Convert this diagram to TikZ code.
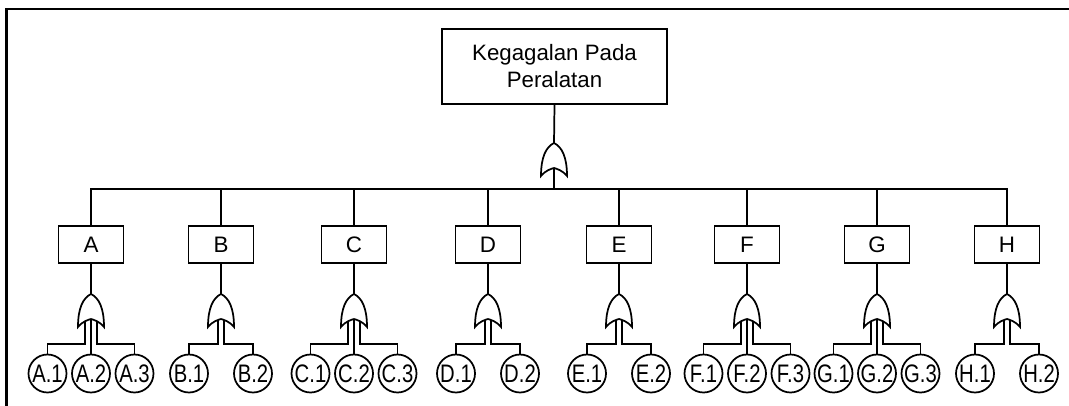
\documentclass[tikz,border=0pt]{standalone}
\usepackage{fontspec}
\setmainfont{Liberation Sans}
\usepackage{tikz}
\usetikzlibrary{calc}
\usetikzlibrary{positioning}

\newcommand{\evlabel}[1]{\scalebox{0.8}[1]{#1}}

\tikzset{
	topevent/.style={draw, line width=1.3pt, minimum width=168.75pt, minimum height=56.25pt, align=center, font=\fontsize{16.7}{20.25}\selectfont},
	midevent/.style={draw, line width=1.3pt, minimum width=48.75pt, minimum height=27.75pt, inner sep=0pt, font=\fontsize{16.8}{19}\selectfont},
	basicevent/.style={draw, circle, line width=1.3pt, minimum size=28.5pt, inner sep=0pt, font=\fontsize{19}{20}\selectfont},
	orgate/.pic={
		\draw[line width=1.3pt, fill=white] (-13,33) .. controls (-13,14) and (-8,4) .. (0,0)
			.. controls (8,4) and (13,14) .. (13,33)
			.. controls (8,27) and (3,26) .. (0,25)
			.. controls (-3,26) and (-8,27) .. (-13,33) -- cycle;
		\coordinate (-out) at (0,0);
		\coordinate (-mid) at (0,25);
		\coordinate (-l) at (-6,26.5);
		\coordinate (-r) at (6,26.5);
		\coordinate (-ll) at (-3,25.5);
		\coordinate (-rr) at (3,25.5);
	}
}

\begin{document}
\begin{tikzpicture}[x=0.75pt, y=-0.75pt, line width=1.3pt]
	\useasboundingbox (0,0) rectangle (1069,406);
	% frame
	\draw[line width=2pt] (6.5,406) -- (6.5,9) -- (1069,9);

	\node[topevent] (top) at (554.5,66.5) {Kegagalan Pada\\Peralatan};
	\pic (gT) at (554,143) {orgate};
	\coordinate (bus) at (554,189);

	\node[midevent] (A) at (91,244.5) {A};
	\node[midevent] (B) at (221,244.5) {B};
	\node[midevent] (C) at (354,244.5) {C};
	\node[midevent] (D) at (488,244.5) {D};
	\node[midevent] (E) at (619,244.5) {E};
	\node[midevent] (F) at (747,244.5) {F};
	\node[midevent] (G) at (877,244.5) {G};
	\node[midevent] (H) at (1007,244.5) {H};

	\pic (gA) at (91,294) {orgate};
	\pic (gB) at (221,294) {orgate};
	\pic (gC) at (354,294) {orgate};
	\pic (gD) at (488,294) {orgate};
	\pic (gE) at (619,294) {orgate};
	\pic (gF) at (747,294) {orgate};
	\pic (gG) at (877,294) {orgate};
	\pic (gH) at (1007,294) {orgate};

	% basic events
	\node[basicevent] (A1) at (47.5,373.5) {\evlabel{A.1}};
	\node[basicevent] (A2) at (91,373.5) {\evlabel{A.2}};
	\node[basicevent] (A3) at (134.5,373.5) {\evlabel{A.3}};
	\node[basicevent] (B1) at (189,373.5) {\evlabel{B.1}};
	\node[basicevent] (B2) at (253,373.5) {\evlabel{B.2}};
	\node[basicevent] (C1) at (310.5,373.5) {\evlabel{C.1}};
	\node[basicevent] (C2) at (354,373.5) {\evlabel{C.2}};
	\node[basicevent] (C3) at (397.5,373.5) {\evlabel{C.3}};
	\node[basicevent] (D1) at (456,373.5) {\evlabel{D.1}};
	\node[basicevent] (D2) at (520,373.5) {\evlabel{D.2}};
	\node[basicevent] (E1) at (587,373.5) {\evlabel{E.1}};
	\node[basicevent] (E2) at (651,373.5) {\evlabel{E.2}};
	\node[basicevent] (F1) at (703.5,373.5) {\evlabel{F.1}};
	\node[basicevent] (F2) at (747,373.5) {\evlabel{F.2}};
	\node[basicevent] (F3) at (790.5,373.5) {\evlabel{F.3}};
	\node[basicevent] (G1) at (833.5,373.5) {\evlabel{G.1}};
	\node[basicevent] (G2) at (877,373.5) {\evlabel{G.2}};
	\node[basicevent] (G3) at (920.5,373.5) {\evlabel{G.3}};
	\node[basicevent] (H1) at (975,373.5) {\evlabel{H.1}};
	\node[basicevent] (H2) at (1039,373.5) {\evlabel{H.2}};

	% top level
	\draw (top.south) -- (gT-out);
	\draw (gT-mid) -- (bus);
	\draw (A.north) -- (A.north |- bus) -- (H.north |- bus) -- (H.north);
	\draw (B.north) -- (B.north |- bus);
	\draw (C.north) -- (C.north |- bus);
	\draw (D.north) -- (D.north |- bus);
	\draw (E.north) -- (E.north |- bus);
	\draw (F.north) -- (F.north |- bus);
	\draw (G.north) -- (G.north |- bus);

	% gates to events
	\draw (A.south) -- (gA-out);
	\draw (gA-l) -- ++(0,23.5) -| (A1.north);
	\draw (gA-mid) -- (A2.north);
	\draw (gA-r) -- ++(0,23.5) -| (A3.north);

	\draw (B.south) -- (gB-out);
	\draw (gB-ll) -- ++(0,24.5) -| (B1.north);
	\draw (gB-rr) -- ++(0,24.5) -| (B2.north);

	\draw (C.south) -- (gC-out);
	\draw (gC-l) -- ++(0,23.5) -| (C1.north);
	\draw (gC-mid) -- (C2.north);
	\draw (gC-r) -- ++(0,23.5) -| (C3.north);

	\draw (D.south) -- (gD-out);
	\draw (gD-ll) -- ++(0,24.5) -| (D1.north);
	\draw (gD-rr) -- ++(0,24.5) -| (D2.north);

	\draw (E.south) -- (gE-out);
	\draw (gE-ll) -- ++(0,24.5) -| (E1.north);
	\draw (gE-rr) -- ++(0,24.5) -| (E2.north);

	\draw (F.south) -- (gF-out);
	\draw (gF-l) -- ++(0,23.5) -| (F1.north);
	\draw (gF-mid) -- (F2.north);
	\draw (gF-r) -- ++(0,23.5) -| (F3.north);

	\draw (G.south) -- (gG-out);
	\draw (gG-l) -- ++(0,23.5) -| (G1.north);
	\draw (gG-mid) -- (G2.north);
	\draw (gG-r) -- ++(0,23.5) -| (G3.north);

	\draw (H.south) -- (gH-out);
	\draw (gH-ll) -- ++(0,24.5) -| (H1.north);
	\draw (gH-rr) -- ++(0,24.5) -| (H2.north);
\end{tikzpicture}
\end{document}
